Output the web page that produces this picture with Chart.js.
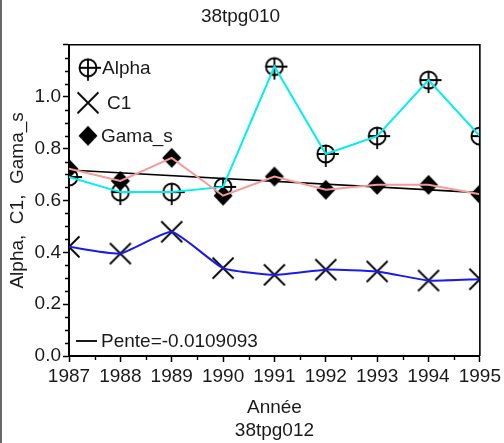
<!DOCTYPE html>
<html>
<head>
<meta charset="utf-8">
<script src="https://cdn.jsdelivr.net/npm/chart.js@4.4.1/dist/chart.umd.min.js"></script>
<style>
  html, body { margin: 0; padding: 0; background: #fff; }
  #wrap { width: 504px; height: 443px; position: relative; }
</style>
</head>
<body>
<div id="wrap"><canvas id="c" width="504" height="443"></canvas></div>
<script>
// ---- data ----
const years = [1987, 1988, 1989, 1990, 1991, 1992, 1993, 1994, 1995];
const alpha = [0.690, 0.632, 0.632, 0.652, 1.116, 0.779, 0.848, 1.064, 0.848];
const c1    = [0.421, 0.395, 0.479, 0.339, 0.313, 0.333, 0.326, 0.291, 0.296];
const gamaS = [0.722, 0.675, 0.764, 0.618, 0.692, 0.641, 0.660, 0.660, 0.624];
const trendX = [1987, 1995];
const trendY = [0.717, 0.630];
const seriesNames = ['Alpha', 'C1', 'Gama_s'];
const trendLabel = 'Pente=-0.0109093';
const yTicks = [0, 0.2, 0.4, 0.6, 0.8, 1.0];
const chartTitle = '38tpg010';
const xTitle = ['Année', '38tpg012'];
const yTitle = 'Alpha,  C1,  Gama_s';

const FONT = "'Liberation Sans', Arial, sans-serif";
const FS = 19;
const TXT = '#1a1a1a';

// ---- marker images ----
function mk(size, draw) {
  const cv = document.createElement('canvas');
  cv.width = size; cv.height = size;
  const g = cv.getContext('2d');
  draw(g, size / 2);
  return cv;
}
const circlePlus = mk(36, (g, c) => {
  g.strokeStyle = '#000'; g.lineWidth = 1.8;
  g.beginPath(); g.arc(c, c, 8.5, 0, Math.PI * 2); g.stroke();
  g.beginPath();
  g.moveTo(c - 8.5, c); g.lineTo(c + 13, c);
  g.moveTo(c, c - 8.5); g.lineTo(c, c + 13);
  g.stroke();
});
const xMark = mk(26, (g, c) => {
  g.strokeStyle = '#000'; g.lineWidth = 1.8;
  g.beginPath();
  g.moveTo(c - 10.5, c - 10.5); g.lineTo(c + 10.5, c + 10.5);
  g.moveTo(c + 10.5, c - 10.5); g.lineTo(c - 10.5, c + 10.5);
  g.stroke();
});
const diamond = mk(24, (g, c) => {
  g.fillStyle = '#000';
  g.beginPath();
  g.moveTo(c, c - 10); g.lineTo(c + 9.5, c); g.lineTo(c, c + 10); g.lineTo(c - 9.5, c);
  g.closePath(); g.fill();
});

const pts = arr => years.map((x, i) => ({ x, y: arr[i] }));

// ---- plugin: left border, frame, minor ticks, in-plot legend ----
const decor = {
  id: 'decor',
  beforeDraw(chart) {
    const ctx = chart.ctx;
    ctx.save();
    ctx.fillStyle = '#6a6a6a';
    ctx.fillRect(0, 0, 2, chart.height);
    ctx.restore();
  },
  afterDraw(chart) {
    const { ctx, chartArea: a, scales: { x, y } } = chart;
    ctx.save();
    ctx.strokeStyle = '#000';
    // frame top/right
    ctx.lineWidth = 1.6;
    ctx.beginPath();
    ctx.moveTo(a.left, a.top); ctx.lineTo(a.right, a.top); ctx.lineTo(a.right, a.bottom);
    ctx.stroke();
    // minor ticks
    ctx.lineWidth = 1.4;
    ctx.beginPath();
    for (let i = 0; i < years.length - 1; i++) {
      const px = Math.round(x.getPixelForValue(years[i] + 0.5)) + 0.5;
      ctx.moveTo(px, a.bottom); ctx.lineTo(px, a.bottom + 4);
    }
    for (let k = 1; k < 24; k++) {
      if (k % 4 === 0) continue;
      const py = Math.round(y.getPixelForValue(k * 0.05)) + 0.5;
      ctx.moveTo(a.left - 4, py); ctx.lineTo(a.left, py);
    }
    ctx.stroke();
    // legend
    ctx.fillStyle = TXT;
    ctx.font = FS + 'px ' + FONT;
    ctx.textBaseline = 'middle';
    const lx = a.left + 19;
    const icons = [circlePlus, xMark, diamond];
    const ly = [a.top + 23, a.top + 58, a.top + 91];
    const tx = [a.left + 33, a.left + 38, a.left + 32];
    icons.forEach((im, i) => {
      ctx.drawImage(im, lx - im.width / 2, ly[i] - im.height / 2);
      ctx.fillText(seriesNames[i], tx[i], ly[i] + 1);
    });
    // trend legend
    const ty = a.bottom - 15;
    ctx.lineWidth = 1.8;
    ctx.beginPath(); ctx.moveTo(a.left + 7, ty); ctx.lineTo(a.left + 28, ty); ctx.stroke();
    ctx.fillText(trendLabel, a.left + 32, ty + 1);
    ctx.restore();
  }
};

new Chart(document.getElementById('c'), {
  type: 'line',
  data: {
    datasets: [
      { label: seriesNames[0] + ' pts', data: pts(alpha), showLine: false, pointStyle: circlePlus, pointRadius: 9, clip: 0, order: 5 },
      { label: seriesNames[1] + ' pts', data: pts(c1), showLine: false, pointStyle: xMark, pointRadius: 9, clip: 0, order: 5 },
      { label: seriesNames[2] + ' pts', data: pts(gamaS), showLine: false, pointStyle: diamond, pointRadius: 9, clip: 0, order: 5 },
      { label: 'trend', data: trendX.map((x, i) => ({ x, y: trendY[i] })), borderColor: '#000', borderWidth: 1.6, pointRadius: 0, order: 3, clip: 0 },
      { label: seriesNames[0], data: pts(alpha), borderColor: '#00f0f0', borderWidth: 2, pointRadius: 0, tension: 0, order: 2, clip: 0 },
      { label: seriesNames[1], data: pts(c1), borderColor: '#1a1af0', borderWidth: 2, pointRadius: 0, tension: 0.15, order: 2, clip: 0 },
      { label: seriesNames[2], data: pts(gamaS), borderColor: '#f59a9a', borderWidth: 2, pointRadius: 0, tension: 0, order: 1, clip: 0 }
    ]
  },
  options: {
    responsive: false,
    devicePixelRatio: 1,
    animation: false,
    events: [],
    layout: { padding: { left: 0, right: 23, top: 0, bottom: 0 } },
    plugins: {
      legend: { display: false },
      tooltip: { enabled: false },
      title: {
        display: true, text: chartTitle, color: TXT,
        font: { family: FONT, size: FS, weight: 'normal', lineHeight: 1.2 },
        padding: { top: 5, bottom: 17 }
      }
    },
    scales: {
      x: {
        type: 'linear', min: years[0], max: years[years.length - 1],
        afterBuildTicks: s => { s.ticks = years.map(v => ({ value: v })); },
        afterFit: s => { s.height = 87; },
        grid: { drawOnChartArea: false, drawTicks: true, tickLength: 6, tickColor: '#000', tickWidth: 1.5 },
        border: { display: true, color: '#000', width: 2 },
        ticks: { color: TXT, font: { family: FONT, size: FS }, padding: 3, maxRotation: 0, autoSkip: false,
                 callback: v => String(v) },
        title: { display: true, text: xTitle, color: TXT, font: { family: FONT, size: FS, lineHeight: 1.2 },
                 padding: { top: 0, bottom: 1 } }
      },
      y: {
        type: 'linear', min: 0, max: 1.2,
        afterBuildTicks: s => { s.ticks = yTicks.concat([1.2]).map(v => ({ value: v })); },
        afterFit: s => { s.width = 69; },
        grid: { drawOnChartArea: false, drawTicks: true, tickLength: 6, tickColor: '#000', tickWidth: 1.5 },
        border: { display: true, color: '#000', width: 2 },
        ticks: { color: TXT, font: { family: FONT, size: FS }, padding: 2, autoSkip: false,
                 callback: v => (Math.abs(v - 1.2) < 1e-9 ? '' : v.toFixed(1)) },
        title: { display: true, text: yTitle, color: TXT, font: { family: FONT, size: FS, lineHeight: 1.2 },
                 padding: { top: 6, bottom: 0 } }
      }
    }
  },
  plugins: [decor]
});
</script>
</body>
</html>
